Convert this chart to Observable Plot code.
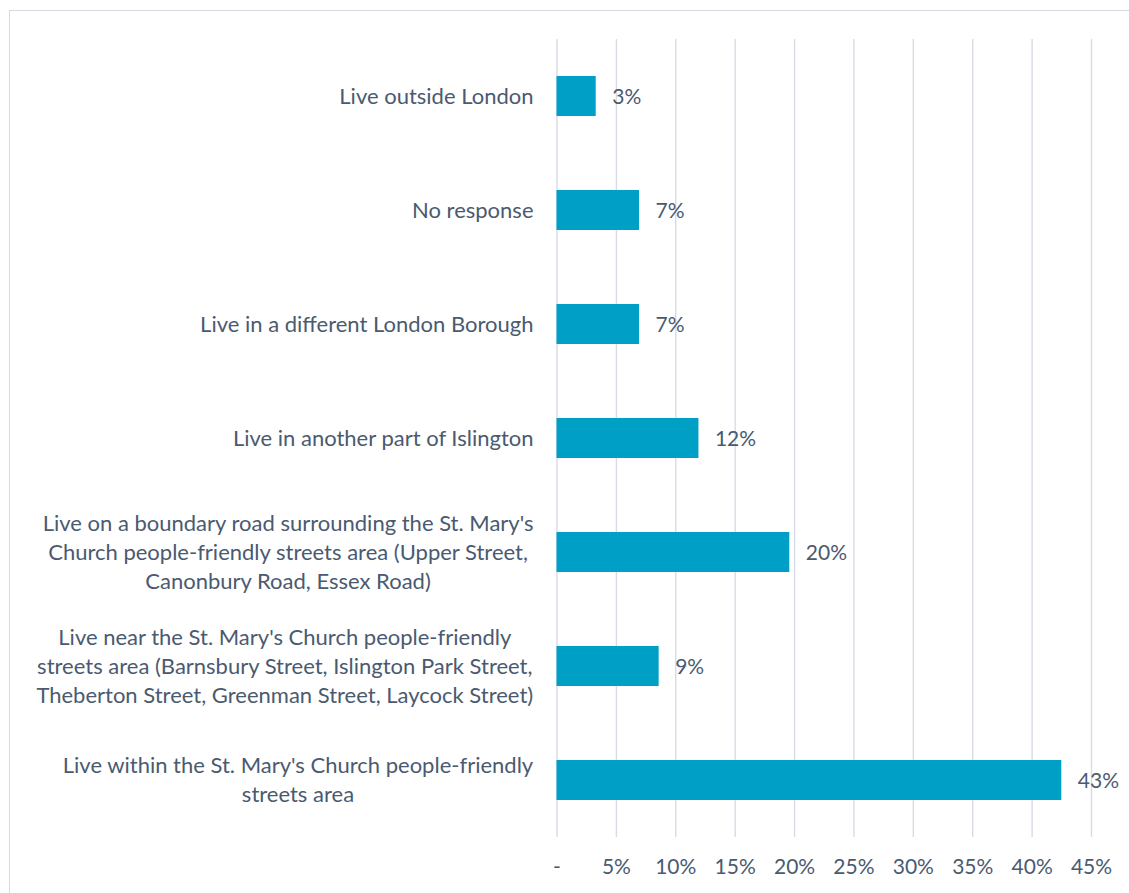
<!DOCTYPE html>
<html>
<head>
<meta charset="utf-8">
<script src="https://cdn.jsdelivr.net/npm/d3@7"></script>
<script src="https://cdn.jsdelivr.net/npm/@observablehq/plot@0.6"></script>
<style>
  html, body { margin: 0; padding: 0; background: #ffffff; overflow: hidden; }
  #frame { position: absolute; left: 9px; top: 10px; width: 1200px; height: 1000px; border: 1px solid #d6dbe3; box-sizing: border-box; }
  #chart { position: absolute; left: 0; top: 0; }
</style>
</head>
<body>
<div id="frame"></div>
<div id="chart"></div>
<script>
const categories = [
  "Live outside London",
  "No response",
  "Live in a different London Borough",
  "Live in another part of Islington",
  "Live on a boundary road surrounding the St. Mary's\nChurch people-friendly streets area (Upper Street,\nCanonbury Road, Essex Road)",
  "Live near the St. Mary's Church people-friendly\nstreets area (Barnsbury Street, Islington Park Street,\nTheberton Street, Greenman Street, Laycock Street)",
  "Live within the St. Mary's Church people-friendly\nstreets area"
];
const values = [3.3, 6.95, 6.95, 11.95, 19.6, 8.6, 42.5];
const valueLabels = ["3%", "7%", "7%", "12%", "20%", "9%", "43%"];
const xTicks = [0, 5, 10, 15, 20, 25, 30, 35, 40, 45];
const xTickLabels = ["-", "5%", "10%", "15%", "20%", "25%", "30%", "35%", "40%", "45%"];

const data = categories.map((c, i) => ({category: c, value: values[i], label: valueLabels[i]}));

const textColor = "#4a5a70";
const plot = Plot.plot({
  width: 1129,
  height: 893,
  marginLeft: 556.5,
  marginRight: 38,
  marginTop: 39,
  marginBottom: 56,
  style: {fontFamily: "Lato, sans-serif", fontSize: "21px", color: textColor, background: "transparent"},
  x: {domain: [0, 45]},
  y: {domain: categories, paddingInner: 0.65, paddingOuter: 0.325, axis: null},
  marks: [
    Plot.gridX(xTicks, {stroke: "#d6dbe5", strokeOpacity: 1, strokeWidth: 1.4}),
    Plot.axisX({ticks: xTicks, tickFormat: d => xTickLabels[xTicks.indexOf(d)], tickSize: 0, tickPadding: 22, fontSize: 21, fill: textColor, label: null}),
    Plot.barX(data, {x: "value", y: "category", fill: "#009FC6"}),
    Plot.text(data, {x: "value", y: "category", text: "label", dx: 16, dy: 1, textAnchor: "start", fill: textColor, fontSize: 21}),
    Plot.text(data, {x: 0, y: "category", text: "category", dx: -23.5, dy: -2, textAnchor: "end", lineAnchor: "middle", lineHeight: 1.32, fill: textColor, fontSize: 22, className: "ylab"})
  ]
});
document.getElementById("chart").appendChild(plot);

// center lines of each category label within its right-aligned block
plot.querySelectorAll("g.ylab text").forEach(t => {
  const w = t.getBBox().width;
  t.setAttribute("text-anchor", "middle");
  const tr = t.getAttribute("transform") || "";
  t.setAttribute("transform", tr + ` translate(${-w / 2},0)`);
});
</script>
</body>
</html>
